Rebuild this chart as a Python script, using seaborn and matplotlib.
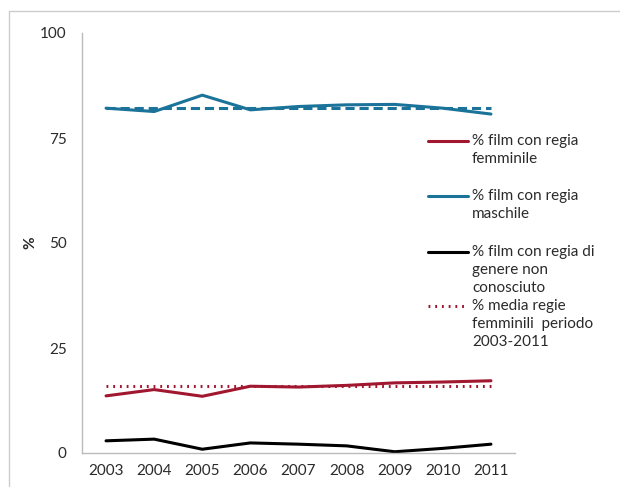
import matplotlib
matplotlib.use("Agg")
import matplotlib.pyplot as plt
import seaborn as sns
import pandas as pd
from matplotlib.lines import Line2D

years = ["2003", "2004", "2005", "2006", "2007", "2008", "2009", "2010", "2011"]
female = [13.6, 15.1, 13.5, 15.9, 15.7, 16.1, 16.7, 16.9, 17.2]
male = [82.1, 81.3, 85.2, 81.7, 82.5, 82.9, 83.0, 82.1, 80.7]
unknown = [2.9, 3.3, 0.9, 2.4, 2.1, 1.7, 0.3, 1.1, 2.1]
female_mean = [15.9] * 9
male_mean = [82.1] * 9

labels = ["% film con regia\nfemminile",
          "% film con regia\nmaschile",
          "% film con regia di\ngenere non\nconosciuto",
          "% media regie\nfemminili  periodo\n2003-2011"]
yticks = [0, 25, 50, 75, 100]

RED = "#A0172F"
BLUE = "#1B7399"
BLACK = "#000000"
TXT = "#2A2A2A"

sns.set_theme(style="white")
plt.rcParams["font.family"] = ["Lato", "DejaVu Sans"]

df = pd.DataFrame({"x": list(range(len(years))), "year": years,
                   "female": female, "male": male, "unknown": unknown,
                   "fmean": female_mean, "mmean": male_mean})

fig = plt.figure(figsize=(6.2, 4.87), dpi=100)
ax = fig.add_axes([82/620, 1-453/487, (515-82)/620, (453-33)/487])

sns.lineplot(data=df, x="x", y="mmean", ax=ax, color=BLUE, lw=2.2, linestyle=(0, (3, 1.6)))
sns.lineplot(data=df, x="x", y="fmean", ax=ax, color=RED, lw=2.2, linestyle=(0, (0.6, 1.6)))
sns.lineplot(data=df, x="x", y="female", ax=ax, color=RED, lw=2.2)
sns.lineplot(data=df, x="x", y="male", ax=ax, color=BLUE, lw=2.2)
sns.lineplot(data=df, x="x", y="unknown", ax=ax, color=BLACK, lw=2.2)

ax.set_xlim(-0.5, len(years) - 0.5)
ax.set_ylim(0, 100)
ax.set_xticks(range(len(years)))
ax.set_xticklabels(years, fontsize=11, color=TXT)
ax.set_yticks(yticks)
ax.set_yticklabels([str(v) for v in yticks], fontsize=11, color=TXT)
ax.tick_params(axis="x", length=0, pad=8)
ax.tick_params(axis="y", length=0, pad=11)
ax.set_xlabel("")
ax.set_ylabel("")
for s in ["top", "right"]:
    ax.spines[s].set_visible(False)
for s in ["left", "bottom"]:
    ax.spines[s].set_color("#BBBBBB")
    ax.spines[s].set_linewidth(1)

fig.text(30/620, 1-243/487, "%", rotation=90, ha="center", va="center",
         fontsize=11, fontweight="bold", color=TXT)

# legend
colors = [RED, BLUE, BLACK, RED]
styles = ["-", "-", "-", (0, (0.6, 1.6))]
first_line_y = [141, 196, 252, 306]
line_h = 18
for lab, c, st, y0 in zip(labels, colors, styles, first_line_y):
    fig.add_artist(Line2D([428/620, 468/620], [1-y0/487, 1-y0/487], color=c, lw=2.2,
                          linestyle=st, transform=fig.transFigure))
    for i, ln in enumerate(lab.split("\n")):
        fig.text(472/620, 1-(y0 + i*line_h)/487, ln, ha="left", va="center",
                 fontsize=11, color=TXT)

# frame (left and top edges visible)
fig.add_artist(Line2D([9/620, 9/620], [0, 1-11/487], color="#CCCCCC", lw=1, transform=fig.transFigure))
fig.add_artist(Line2D([9/620, 1], [1-11/487, 1-11/487], color="#CCCCCC", lw=1, transform=fig.transFigure))

fig.savefig("out.png", dpi=100)
